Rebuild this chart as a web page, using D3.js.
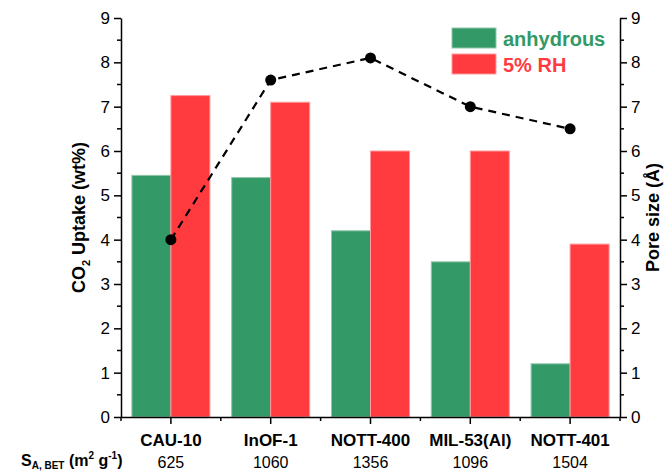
<html>
<head>
<script src="https://d3js.org/d3.v7.min.js"></script>
<style>
body { margin: 0; background: #fff; }
svg text { font-family: "Liberation Sans", Arial, sans-serif; }
</style>
</head>
<body>
<svg width="667" height="473"></svg>
<script>
const materials = ["CAU-10", "InOF-1", "NOTT-400", "MIL-53(Al)", "NOTT-401"];
const surfaceArea = ["625", "1060", "1356", "1096", "1504"];
const anhydrous = [5.45, 5.4, 4.2, 3.5, 1.2];
const humid = [7.25, 7.1, 6.0, 6.0, 3.9];
const poreSize = [4.0, 7.6, 8.1, 7.0, 6.5];
const yTicks = [0, 1, 2, 3, 4, 5, 6, 7, 8, 9];

const green = "#339966", red = "#FF3B3F";
const mLeft = 121, mRight = 620, mTop = 18, mBottom = 417;

const svg = d3.select("svg");
const x = d3.scaleBand().domain(materials).range([mLeft, mRight]);
const y = d3.scaleLinear().domain([0, 9]).range([mBottom, mTop]);
const y2 = d3.scaleLinear().domain([0, 9]).range([mBottom, mTop]);
const barW = 39;

// bars
const g = svg.append("g");
materials.forEach(function(m, i) {
  const cx = x(m) + x.bandwidth() / 2;
  g.append("rect").attr("x", cx - barW).attr("y", y(anhydrous[i]))
    .attr("width", barW).attr("height", y(0) - y(anhydrous[i]))
    .attr("fill", green).attr("stroke", "#8fc7aa").attr("stroke-width", 1);
  g.append("rect").attr("x", cx).attr("y", y(humid[i]))
    .attr("width", barW).attr("height", y(0) - y(humid[i]))
    .attr("fill", red).attr("stroke", "#ff9a9c").attr("stroke-width", 1);
});

// pore size line
const pts = materials.map(function(m, i) { return [x(m) + x.bandwidth() / 2, y2(poreSize[i])]; });
svg.append("path").attr("d", d3.line()(pts))
  .attr("fill", "none").attr("stroke", "#000").attr("stroke-width", 2.2)
  .attr("stroke-dasharray", "8,6");
svg.selectAll(".pt").data(pts).enter().append("circle")
  .attr("cx", d => d[0]).attr("cy", d => d[1]).attr("r", 5.5).attr("fill", "#000");

// axes
function styleAxis(sel) {
  sel.selectAll("path").attr("stroke", "#000").attr("stroke-width", 1.5);
  sel.selectAll("line").attr("stroke", "#000").attr("stroke-width", 1.5);
  sel.selectAll("text").attr("font-size", 17).attr("fill", "#000");
}
const minor = d3.range(0.5, 9, 1);

const la = svg.append("g").attr("transform", "translate(" + mLeft + ",0)")
  .call(d3.axisLeft(y).tickValues(yTicks).tickSize(7).tickPadding(4).tickSizeOuter(0));
styleAxis(la);
la.selectAll(".minor").data(minor).enter().append("line")
  .attr("x1", 0).attr("x2", -4).attr("y1", d => y(d)).attr("y2", d => y(d))
  .attr("stroke", "#000").attr("stroke-width", 1.5);

const ra = svg.append("g").attr("transform", "translate(" + mRight + ",0)")
  .call(d3.axisRight(y2).tickValues(yTicks).tickSize(7).tickPadding(4).tickSizeOuter(0));
styleAxis(ra);
ra.selectAll(".minor").data(minor).enter().append("line")
  .attr("x1", 0).attr("x2", 4).attr("y1", d => y2(d)).attr("y2", d => y2(d))
  .attr("stroke", "#000").attr("stroke-width", 1.5);

const ba = svg.append("g").attr("transform", "translate(0," + mBottom + ")")
  .call(d3.axisBottom(x).tickSize(7).tickPadding(10).tickSizeOuter(0));
styleAxis(ba);
ba.selectAll("text").attr("font-weight", "bold").attr("font-size", 17);
const edges = d3.range(0, 6).map(i => mLeft + i * x.bandwidth());
ba.selectAll(".minor").data(edges).enter().append("line")
  .attr("x1", d => d).attr("x2", d => d).attr("y1", 0).attr("y2", 4)
  .attr("stroke", "#000").attr("stroke-width", 1.5);

// surface area row
materials.forEach(function(m, i) {
  svg.append("text").attr("x", x(m) + x.bandwidth() / 2).attr("y", 468)
    .attr("text-anchor", "middle").attr("font-size", 16).text(surfaceArea[i]);
});
const sa = svg.append("text").attr("x", 21).attr("y", 466)
  .attr("font-size", 16).attr("font-weight", "bold");
sa.append("tspan").text("S");
sa.append("tspan").attr("font-size", 10).attr("dy", 3).text("A, BET");
sa.append("tspan").attr("dy", -3).text(" (m");
sa.append("tspan").attr("font-size", 10).attr("dy", -7).text("2");
sa.append("tspan").attr("dy", 7).text(" g");
sa.append("tspan").attr("font-size", 10).attr("dy", -7).text("-1");
sa.append("tspan").attr("dy", 7).text(")");

// axis titles
const yt = svg.append("text").attr("transform", "translate(85," + ((mTop + mBottom) / 2) + ") rotate(-90)")
  .attr("text-anchor", "middle").attr("font-size", 18).attr("font-weight", "bold");
yt.append("tspan").text("CO");
yt.append("tspan").attr("font-size", 11).attr("dy", 5).text("2");
yt.append("tspan").attr("dy", -5).text(" Uptake (wt%)");

svg.append("text").attr("transform", "translate(659," + ((mTop + mBottom) / 2) + ") rotate(-90)")
  .attr("text-anchor", "middle").attr("font-size", 18).attr("font-weight", "bold")
  .text("Pore size (Å)");

// legend
const legend = [["anhydrous", green, "#8fc7aa"], ["5% RH", red, "#ff9a9c"]];
legend.forEach(function(l, i) {
  svg.append("rect").attr("x", 452).attr("y", 28 + i * 26).attr("width", 44).attr("height", 20)
    .attr("fill", l[1]).attr("stroke", l[2]);
  svg.append("text").attr("x", 503).attr("y", 46 + i * 26).attr("font-size", 20)
    .attr("font-weight", "bold").attr("fill", l[1]).text(l[0]);
});
</script>
</body>
</html>
